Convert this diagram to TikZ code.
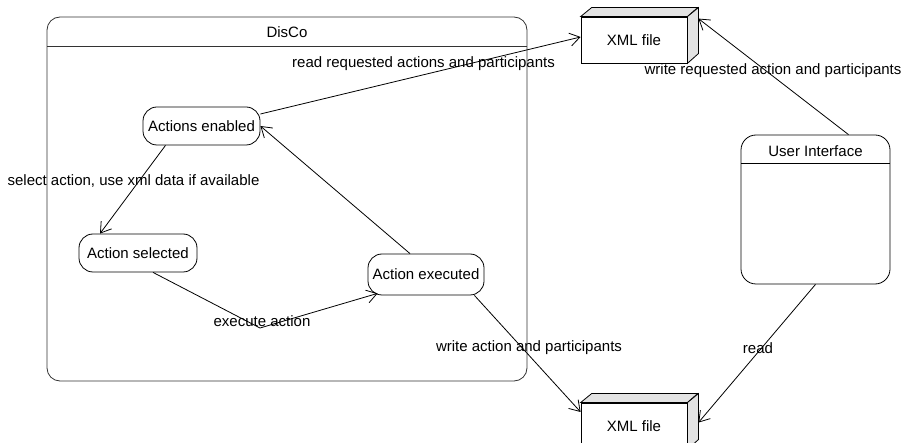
\documentclass[tikz,border=0pt]{standalone}
\usepackage{fontspec}
\setmainfont{Liberation Sans}
\usetikzlibrary{arrows.meta,calc}
\begin{document}
\begin{tikzpicture}[x=1pt,y=-1pt,
  font=\fontsize{15}{17}\selectfont,
  line width=0.8pt,
  state/.style={draw, rounded corners=14pt, inner sep=0pt, align=center},
  filefront/.style={draw, fill=white, minimum width=106pt, minimum height=46pt, inner sep=0pt},
  sideface/.style={draw, fill=black!11},
  flow/.style={-{Straight Barb[length=10pt,width=13pt,line width=0.8pt]}},
  lbl/.style={inner sep=0pt, anchor=center}]
\clip (0,0) rectangle (905,443);
\fill[white] (0,0) rectangle (905,443);

% DisCo container with its title compartment
\draw[black!80, rounded corners=13pt] (47,17) rectangle (527,381);
\draw[black!80] (47,46) -- (527,46);
\node[lbl] (disco) at (287,32) {DisCo};

% states inside DisCo
\node[state, minimum width=117pt, minimum height=38pt] (en) at (201.5,126) {Actions enabled};
\node[state, minimum width=118pt, minimum height=38pt] (se) at (138,253) {Action selected};
\node[state, minimum width=116pt, minimum height=41pt] (ex) at (426,274.5) {Action executed};

% User Interface container
\draw[rounded corners=15pt] (741,135) rectangle (890,284);
\node[inner sep=0pt, minimum width=149pt, minimum height=149pt] (ui) at (815.5,209.5) {};
\draw (741,163) -- (890,163);
\node[lbl] (uititle) at (815.5,151) {User Interface};

% XML files drawn as boxes
\node[filefront] (x1) at (634,40) {XML file};
\draw[sideface] (x1.north west) -- ++(11,-9) -- ++(106,0) -- (x1.north east) -- cycle;
\draw[sideface] (x1.north east) -- ++(11,-9) -- ++(0,46) -- (x1.south east) -- cycle;

\node[filefront] (x2) at (634,426) {XML file};
\draw[sideface] (x2.north west) -- ++(11,-9) -- ++(106,0) -- (x2.north east) -- cycle;
\draw[sideface] (x2.north east) -- ++(11,-9) -- ++(0,46) -- (x2.south east) -- cycle;

% transitions and data flows
\draw[flow] ($(en.east)+(0,-12)$) -- ($(x1.west)+(0,-3)$);
\draw[flow] ($(ui.north)+(33,0)$) -- ($(x1.north east)+(11,2)$);
\draw[flow] ($(en.south)+(-36,0)$) -- ($(se.north)+(-38,0)$);
\draw[flow] ($(se.south)+(15,0)$) -- (260,328) -- ($(ex.south west)+(10,-2)$);
\draw[flow] ($(ex.north)+(-16,0)$) -- (en.east);
\draw[flow] ($(ex.south east)+(-10,0)$) -- ($(x2.west)+(0,-14)$);
\draw[flow] (ui.south) -- ($(x2.north east)+(11,20)$);

% labels
\node[lbl] (l1) at (423.5,64) {read requested actions and participants};
\node[lbl] (l2) at (773,71) {write requested action and participants};
\node[lbl] (l3) at (133.5,181) {select action, use xml data if available};
\node[lbl] (l4) at (262,321) {execute action};
\node[lbl] (l5) at (529,348) {write action and participants};
\node[lbl] (l6) at (758,348) {read};
\end{tikzpicture}
\end{document}
